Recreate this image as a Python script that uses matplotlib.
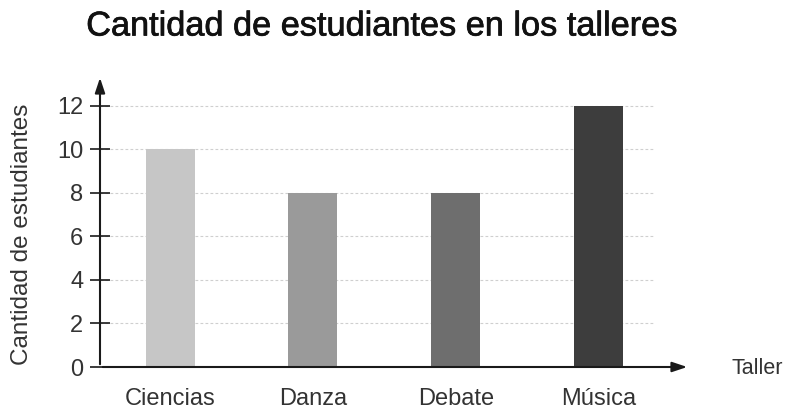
import matplotlib.pyplot as plt
import matplotlib.patheffects as pe

# data
talleres = ["Ciencias", "Danza", "Debate", "Música"]
estudiantes = [10, 8, 8, 12]
colores = ["#c6c6c6", "#9a9a9a", "#6e6e6e", "#3d3d3d"]
y_ticks = [0, 2, 4, 6, 8, 10, 12]

plt.rcParams['font.family'] = ['Liberation Sans', 'DejaVu Sans']

fig = plt.figure(figsize=(7.88, 4.09), dpi=100)
ax = fig.add_axes([100 / 788, 42 / 409, 590 / 788, 292 / 409])

x = list(range(len(talleres)))
ax.bar(x, estudiantes, width=0.343, color=colores, zorder=3)

ax.set_xlim(-0.49, 3.64)
ax.set_ylim(0, 13.4)

# dashed grid
for y in y_ticks[1:]:
    ax.plot([-0.49, 3.39], [y, y], color="#cfcfcf", lw=0.8,
            ls=(0, (2.5, 2)), zorder=1)

for s in ax.spines.values():
    s.set_visible(False)

# axes with arrows
ax.annotate("", xy=(3.64, 0), xytext=(-0.49, 0),
            arrowprops=dict(arrowstyle="-|>,head_length=0.9,head_width=0.3",
                            color="#1a1a1a", lw=1.5), zorder=4)
ax.annotate("", xy=(-0.49, 13.4), xytext=(-0.49, 0),
            arrowprops=dict(arrowstyle="-|>,head_length=0.9,head_width=0.3",
                            color="#1a1a1a", lw=1.5), zorder=4)

ax.set_yticks(y_ticks)
ax.set_yticklabels([str(v) for v in y_ticks])
ax.tick_params(axis="y", direction="inout", length=14, width=1.2,
               color="#1a1a1a", labelsize=17, labelcolor="#333333", pad=5)
ax.set_xticks(x)
ax.set_xticklabels(talleres)
ax.tick_params(axis="x", length=0, labelsize=17, labelcolor="#333333", pad=15)

ax.set_ylabel("Cantidad de estudiantes", fontsize=17.5, color="#333333")
ax.yaxis.set_label_coords(-(100 - 33) / 590, 0.5 - 13 / 292)
fig.text(732 / 788, 1 - 368 / 409, "Taller", fontsize=15.5, color="#333333",
         va="center", ha="left")

fig.text(381 / 788, 1 - 27 / 409, "Cantidad de estudiantes en los talleres",
         fontsize=24.7, color="#111111", ha="center", va="center",
         path_effects=[pe.withStroke(linewidth=0.5, foreground="#111111")])

fig.savefig("out.png", dpi=100)
